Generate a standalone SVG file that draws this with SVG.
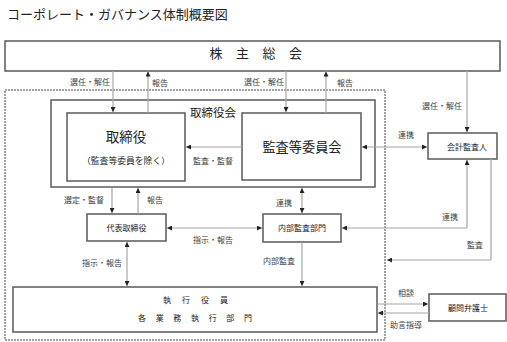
<svg xmlns="http://www.w3.org/2000/svg" width="507" height="342" viewBox="0 0 507 342">
<style>
text{font-family:"Noto Sans CJK JP","Noto Sans CJK SC",sans-serif;fill:#222}
.box{fill:#fff;stroke:#595959;stroke-width:1.5}
.ln{fill:none;stroke:#a6a6a6;stroke-width:1.2}
.lb{font-size:8px;fill:#404040}
.sm{font-size:8px}
.m{text-anchor:middle}
</style>
<defs>
<marker id="ah" viewBox="0 0 6 6" refX="6" refY="3" markerWidth="5" markerHeight="5" markerUnits="userSpaceOnUse" orient="auto-start-reverse">
<path d="M0,0 L6,3 L0,6 z" fill="#222"/>
</marker>
</defs>
<rect width="507" height="342" fill="#fff"/>
<text x="7" y="18.5" font-size="13">コーポレート・ガバナンス体制概要図</text>
<rect x="5" y="90" width="380" height="250" fill="none" stroke="#444" stroke-width="1" stroke-dasharray="2,1"/>
<g id="shareholders">
<rect class="box" x="5" y="41" width="495" height="30"/>
<text class="m" font-size="13" y="58" x="216 242.5 269 295.5">株主総会</text>
</g>
<g id="board">
<rect class="box" x="51" y="100" width="324" height="87"/>
<text x="190" y="117" font-size="11.5">取締役会</text>
</g>
<g id="directors">
<rect class="box" x="67" y="113" width="118" height="68"/>
<text class="m" x="126" y="142" font-size="13.5">取締役</text>
<text class="m" x="126" y="164" font-size="8.8">（監査等委員を除く）</text>
</g>
<g id="audit-committee">
<rect class="box" x="242" y="113" width="119" height="67"/>
<text class="m" x="302" y="152" font-size="13.2">監査等委員会</text>
</g>
<g id="accounting-auditor">
<rect class="box" x="428" y="133" width="69" height="26"/>
<text class="m sm" x="467" y="150">会計監査人</text>
</g>
<g id="representative">
<rect class="box" x="87" y="214" width="79" height="27"/>
<text class="m sm" x="126.5" y="231">代表取締役</text>
</g>
<g id="internal-audit">
<rect class="box" x="263" y="214" width="78" height="28"/>
<text class="m sm" x="302" y="231">内部監査部門</text>
</g>
<g id="executives">
<rect class="box" x="13" y="287" width="364" height="45"/>
<text class="m sm" y="303" x="167 186 205 224">執行役員</text>
<text class="m sm" y="321" x="142 159.7 177.3 195 212.7 230.3 248">各業務執行部門</text>
</g>
<g id="lawyer">
<rect class="box" x="429" y="294" width="77" height="27"/>
<text class="m sm" x="468" y="311">顧問弁護士</text>
</g>
<g id="connectors">
<path class="ln" d="M113,71 V112" marker-end="url(#ah)"/>
<path class="ln" d="M148,113 V71.5" marker-end="url(#ah)"/>
<path class="ln" d="M286,71 V112" marker-end="url(#ah)"/>
<path class="ln" d="M326,113 V71.5" marker-end="url(#ah)"/>
<path class="ln" d="M467,71 V132" marker-end="url(#ah)"/>
<path class="ln" d="M242,147 H186" marker-end="url(#ah)"/>
<path class="ln" d="M362,147 H427" marker-start="url(#ah)" marker-end="url(#ah)"/>
<path class="ln" d="M342,228 H467 V160" marker-start="url(#ah)" marker-end="url(#ah)"/>
<path class="ln" d="M491,159 V260 H387" marker-end="url(#ah)"/>
<path class="ln" d="M112,187.5 V213" marker-end="url(#ah)"/>
<path class="ln" d="M138,214 V188" marker-end="url(#ah)"/>
<path class="ln" d="M302,188 V213" marker-start="url(#ah)" marker-end="url(#ah)"/>
<path class="ln" d="M167,228 H262" marker-start="url(#ah)" marker-end="url(#ah)"/>
<path class="ln" d="M302,242 V286" marker-end="url(#ah)"/>
<path class="ln" d="M127,242 V286" marker-start="url(#ah)" marker-end="url(#ah)"/>
<path class="ln" d="M378,304 H428" marker-end="url(#ah)"/>
<path class="ln" d="M429,313 H378" marker-end="url(#ah)"/>
<text class="lb" x="110" y="85" text-anchor="end">選任・解任</text>
<text class="lb" x="152" y="86">報告</text>
<text class="lb" x="284" y="85" text-anchor="end">選任・解任</text>
<text class="lb" x="337" y="86">報告</text>
<text class="lb" x="422" y="109">選任・解任</text>
<text class="lb" x="193" y="164">監査・監督</text>
<text class="lb" x="398" y="138">連携</text>
<text class="lb" x="442" y="220">連携</text>
<text class="lb" x="467" y="248">監査</text>
<text class="lb" x="64" y="203">選定・監督</text>
<text class="lb" x="147" y="203">報告</text>
<text class="lb" x="276" y="206">連携</text>
<text class="lb" x="193" y="243">指示・報告</text>
<text class="lb" x="263" y="264">内部監査</text>
<text class="lb" x="82" y="266">指示・報告</text>
<text class="lb" x="398" y="296">相談</text>
<text class="lb" x="390" y="328">助言指導</text>
</g>
</svg>
